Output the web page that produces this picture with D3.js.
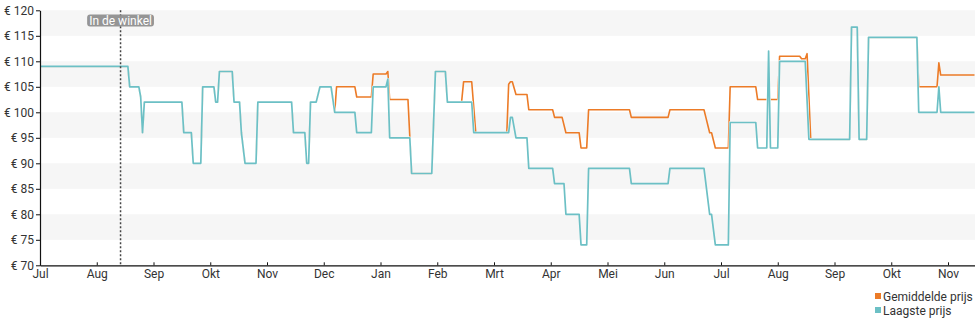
<!DOCTYPE html>
<html>
<head>
<meta charset="utf-8">
<script src="https://cdn.jsdelivr.net/npm/d3@7"></script>
<style>
  body { margin: 0; background: #fff; }
  svg { display: block; font-family: Roboto, "Noto Sans", sans-serif; }
</style>
</head>
<body>
<svg id="chart" width="980" height="325"></svg>
<script>
// Month labels along the time axis (one tick per month, Jul 2022 .. Nov 2023)
const monthLabels = ["Jul", "Aug", "Sep", "Okt", "Nov", "Dec", "Jan", "Feb", "Mrt",
                     "Apr", "Mei", "Jun", "Jul", "Aug", "Sep", "Okt", "Nov"];
const priceTicks = [70, 75, 80, 85, 90, 95, 100, 105, 110, 115, 120];
const shadedBands = [[75, 80], [85, 90], [95, 100], [105, 110], [115, 120]];

// Laagste prijs (lowest price)
const lowDates = [
  "2022-07-01","2022-08-18","2022-08-19","2022-08-24","2022-08-25","2022-08-26","2022-08-27",
  "2022-09-16","2022-09-17","2022-09-21","2022-09-22","2022-09-26","2022-09-27",
  "2022-10-03","2022-10-04","2022-10-05","2022-10-06","2022-10-13","2022-10-14","2022-10-17",
  "2022-10-18","2022-10-20","2022-10-26","2022-10-27",
  "2022-11-14","2022-11-15","2022-11-21","2022-11-22","2022-11-23","2022-11-24","2022-11-27","2022-11-29",
  "2022-12-05","2022-12-07","2022-12-18","2022-12-19","2022-12-27","2022-12-28",
  "2023-01-04","2023-01-05","2023-01-06","2023-01-17","2023-01-18","2023-01-29","2023-01-31",
  "2023-02-05","2023-02-06","2023-02-18","2023-02-19",
  "2023-03-09","2023-03-10","2023-03-11","2023-03-13","2023-03-19","2023-03-20",
  "2023-04-02","2023-04-03","2023-04-08","2023-04-09","2023-04-16","2023-04-17","2023-04-20","2023-04-21",
  "2023-05-13","2023-05-14",
  "2023-06-03","2023-06-04","2023-06-22","2023-06-23","2023-06-25","2023-06-26","2023-06-28",
  "2023-07-05","2023-07-06","2023-07-20","2023-07-21","2023-07-26","2023-07-27","2023-07-28",
  "2023-08-01","2023-08-02","2023-08-16","2023-08-18",
  "2023-09-09","2023-09-10","2023-09-13","2023-09-14","2023-09-18","2023-09-19",
  "2023-10-15","2023-10-16","2023-10-26","2023-10-27","2023-10-28","2023-11-15"
];
const lowValues = [
  109, 109, 105, 105, 103, 96, 102,
  102, 96, 96, 90, 90, 105,
  105, 102, 102, 108, 108, 102, 102,
  96, 90, 90, 102,
  102, 96, 96, 90, 90, 102, 102, 105,
  105, 100, 100, 96, 96, 105,
  105, 106.5, 95, 95, 88, 88, 108,
  108, 102, 102, 96,
  96, 99, 99, 95, 95, 89,
  89, 86, 86, 80, 80, 74, 74, 89,
  89, 86,
  86, 89, 89, 86, 80, 80, 74,
  74, 98, 98, 93, 93, 112, 93,
  93, 110, 110, 94.7,
  94.7, 116.7, 116.7, 94.7, 94.7, 114.7,
  114.7, 100, 100, 105, 100, 100
];

// Gemiddelde prijs (average price)
const avgDates = [
  "2022-07-01","2022-08-18","2022-08-19","2022-08-24","2022-08-25","2022-08-26","2022-08-27",
  "2022-09-16","2022-09-17","2022-09-21","2022-09-22","2022-09-26","2022-09-27",
  "2022-10-03","2022-10-04","2022-10-05","2022-10-06","2022-10-13","2022-10-14","2022-10-17",
  "2022-10-18","2022-10-20","2022-10-26","2022-10-27",
  "2022-11-14","2022-11-15","2022-11-21","2022-11-22","2022-11-23","2022-11-24","2022-11-27","2022-11-29",
  "2022-12-05","2022-12-07","2022-12-08","2022-12-18","2022-12-19","2022-12-27","2022-12-28",
  "2023-01-04","2023-01-05","2023-01-06","2023-01-16","2023-01-18","2023-01-29","2023-01-31",
  "2023-02-05","2023-02-06","2023-02-13","2023-02-14","2023-02-18","2023-02-20",
  "2023-03-08","2023-03-09","2023-03-10","2023-03-11","2023-03-13","2023-03-19","2023-03-20",
  "2023-04-02","2023-04-03","2023-04-07","2023-04-09","2023-04-16","2023-04-17","2023-04-20","2023-04-21",
  "2023-05-13","2023-05-14",
  "2023-06-03","2023-06-04","2023-06-22","2023-06-23","2023-06-25","2023-06-26","2023-06-28",
  "2023-07-05","2023-07-06","2023-07-20","2023-07-21",
  "2023-08-01","2023-08-02","2023-08-13","2023-08-14","2023-08-16","2023-08-17","2023-08-19",
  "2023-09-09","2023-09-10","2023-09-13","2023-09-14","2023-09-18","2023-09-19",
  "2023-10-15","2023-10-16","2023-10-26","2023-10-27","2023-10-28","2023-11-15"
];
const avgValues = [
  109, 109, 105, 105, 103, 96, 102,
  102, 96, 96, 90, 90, 105,
  105, 102, 102, 108, 108, 102, 102,
  96, 90, 90, 102,
  102, 96, 96, 90, 90, 102, 102, 105,
  105, 100, 105, 105, 103, 103, 107.5,
  107.5, 108, 102.5, 102.5, 88, 88, 108,
  108, 102, 102, 106, 106, 96,
  96, 105.5, 106, 106, 103.5, 103.5, 100.5,
  100.5, 99, 99, 96, 96, 93, 93, 100.5,
  100.5, 99,
  99, 100.5, 100.5, 99, 96, 96, 93,
  93, 105, 105, 102.5,
  102.5, 111, 111, 110.5, 110.5, 111.5, 94.7,
  94.7, 116.7, 116.7, 94.7, 94.7, 114.7,
  114.7, 105, 105, 109.7, 107.3, 107.3
];

const storeDate = "2022-08-14";
const storeLabel = "In de winkel";
const domainStart = "2022-07-01", domainEnd = "2023-11-15";

const colors = { avg: "#ec7b27", low: "#6cc0c5" };

// Months are spaced evenly: a date maps to a fractional month index
function monthIndex(s) {
  const [yr, mo, dy] = s.split("-").map(Number);
  const days = new Date(yr, mo, 0).getDate();
  return (yr - 2022) * 12 + (mo - 7) + (dy - 1) / days;
}

const svg = d3.select("#chart");
const plotLeft = 40, plotRight = 974.5, plotTop = 10.3, plotBottom = 265.3;

const x = d3.scaleLinear()
  .domain([monthIndex(domainStart), monthIndex(domainEnd)])
  .range([plotLeft, plotRight]);
const y = d3.scaleLinear().domain([70, 120]).range([plotBottom, plotTop]);

// Alternating shaded bands
svg.append("g").selectAll("rect").data(shadedBands).join("rect")
  .attr("x", plotLeft).attr("width", 975 - plotLeft)
  .attr("y", d => y(d[1])).attr("height", d => y(d[0]) - y(d[1]))
  .attr("fill", "#f6f6f6");

// Series lines (lowest price drawn on top of the average)
const line = d3.line().x(d => x(monthIndex(d.date))).y(d => y(d.value));
const avgSeries = avgDates.map((date, i) => ({ date, value: avgValues[i] }));
const lowSeries = lowDates.map((date, i) => ({ date, value: lowValues[i] }));

// Mask that hides the average line wherever the lowest-price line covers it
const mask = svg.append("defs").append("mask")
  .attr("id", "behind-low").attr("maskUnits", "userSpaceOnUse")
  .attr("x", 0).attr("y", 0).attr("width", 980).attr("height", 325);
mask.append("rect").attr("width", 980).attr("height", 325).attr("fill", "#fff");
mask.append("path").datum(lowSeries)
  .attr("fill", "none").attr("stroke", "#000").attr("stroke-width", 2.6)
  .attr("stroke-linejoin", "round").attr("d", line);

svg.append("path").datum(avgSeries)
  .attr("fill", "none").attr("stroke", colors.avg).attr("stroke-width", 1.6)
  .attr("stroke-linejoin", "round").attr("mask", "url(#behind-low)").attr("d", line);
svg.append("path").datum(lowSeries)
  .attr("fill", "none").attr("stroke", colors.low).attr("stroke-width", 1.7)
  .attr("stroke-linejoin", "round").attr("d", line);

// Y axis
const yAxis = svg.append("g").attr("transform", `translate(${plotLeft},0)`)
  .call(d3.axisLeft(y).tickValues(priceTicks).tickFormat(d => "€ " + d)
    .tickSize(4).tickSizeOuter(0).tickPadding(2));
yAxis.select(".domain").attr("stroke", "#111").attr("stroke-width", 1.2);
yAxis.selectAll(".tick line").attr("stroke", "#111");
yAxis.selectAll("text").attr("font-size", 12).attr("fill", "#333")
  .attr("font-family", "Roboto, sans-serif");

// X axis
const xAxis = svg.append("g").attr("transform", `translate(0,${plotBottom})`)
  .call(d3.axisBottom(x).tickValues(d3.range(monthLabels.length))
    .tickFormat(i => monthLabels[i]).tickSize(-3).tickSizeOuter(0).tickPadding(4));
xAxis.select(".domain").attr("stroke", "#111").attr("stroke-width", 1.2);
xAxis.selectAll(".tick line").attr("stroke", "#111");
xAxis.selectAll("text").attr("font-size", 12).attr("fill", "#333")
  .attr("font-family", "Roboto, sans-serif");

// "In de winkel" marker
const sx = x(monthIndex(storeDate));
svg.append("line")
  .attr("x1", sx).attr("x2", sx).attr("y1", plotTop).attr("y2", plotBottom)
  .attr("stroke", "#444").attr("stroke-width", 1.5).attr("stroke-dasharray", "2,2");
const tag = svg.append("g");
const tagText = tag.append("text")
  .attr("x", sx).attr("y", 24.5).attr("text-anchor", "middle")
  .attr("font-size", 12).attr("fill", "#fff").text(storeLabel);
const bb = tagText.node().getBBox();
tag.insert("rect", "text")
  .attr("x", bb.x - 2).attr("y", 14.5).attr("width", bb.width + 4).attr("height", 12)
  .attr("rx", 3).attr("fill", "#8c8c8c").attr("fill-opacity", 0.92);

// Legend
const legendItems = [
  { label: "Gemiddelde prijs", color: colors.avg },
  { label: "Laagste prijs", color: colors.low }
];
const legend = svg.append("g").selectAll("g").data(legendItems).join("g")
  .attr("transform", (d, i) => `translate(875,${293 + i * 14})`);
legend.append("rect").attr("x", 0).attr("y", 0).attr("width", 6).attr("height", 6)
  .attr("fill", d => d.color);
legend.append("text").attr("x", 8).attr("y", 7.5).attr("font-size", 12)
  .attr("fill", "#333").text(d => d.label);
</script>
</body>
</html>
